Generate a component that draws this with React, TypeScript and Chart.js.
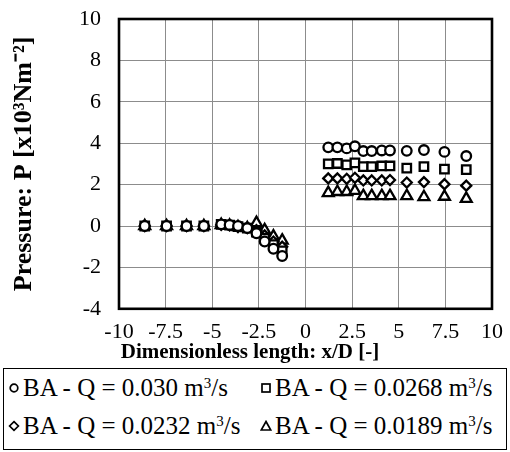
import React, { useEffect, useRef } from 'react';
import { Chart, registerables } from 'chart.js';

Chart.register(...registerables);

// ---- data ----
const xPositions = [
  -8.62, -7.45, -6.38, -5.45, -4.52, -4.07, -3.62, -3.12, -2.63, -2.19, -1.72, -1.25,
  1.22, 1.71, 2.21, 2.65, 3.1, 3.55, 4.09, 4.53, 5.43, 6.35, 7.45, 8.62,
];
const seriesNames = [
  'BA - Q = 0.030 m³/s',
  'BA - Q = 0.0268 m³/s',
  'BA - Q = 0.0232 m³/s',
  'BA - Q = 0.0189 m³/s',
];
const pressureQ030 = [
  0, 0, 0, 0, 0.08, 0.05, 0, -0.1, -0.35, -0.75, -1.1, -1.45,
  3.8, 3.8, 3.75, 3.85, 3.62, 3.62, 3.65, 3.65, 3.63, 3.67, 3.58, 3.38,
];
const pressureQ0268 = [
  0, 0, 0, 0, 0.08, 0.04, -0.03, -0.1, -0.3, -0.6, -0.9, -1.2,
  3.0, 3.02, 2.95, 3.05, 2.87, 2.87, 2.9, 2.9, 2.8, 2.87, 2.75, 2.72,
];
const pressureQ0232 = [
  0, 0, 0, 0, 0.05, 0.03, -0.05, -0.1, -0.2, -0.45, -0.75, -1.0,
  2.3, 2.3, 2.28, 2.33, 2.2, 2.2, 2.2, 2.22, 2.1, 2.12, 2.02, 1.95,
];
const pressureQ0189 = [
  0, 0, 0, 0, 0.05, 0.02, -0.05, -0.1, 0.15, -0.2, -0.5, -0.7,
  1.6, 1.65, 1.65, 1.7, 1.45, 1.45, 1.45, 1.45, 1.45, 1.4, 1.42, 1.32,
];
const xTickValues = [-10, -7.5, -5, -2.5, 0, 2.5, 5, 7.5, 10];
const yTickValues = [-4, -2, 0, 2, 4, 6, 8, 10];
const xTitle = 'Dimensionless length: x/D [-]';
const yTitle = 'Pressure: P [x10³Nm⁻²]';

const seriesValues = [pressureQ030, pressureQ0268, pressureQ0232, pressureQ0189];
const pointStyles = ['circle', 'rect', 'rectRot', 'triangle'] as const;
const pointRadii = [4.8, 6, 5, 6.3];

const FONT = '"Liberation Serif", "Times New Roman", serif';

const framePlugin = {
  id: 'frame',
  beforeDatasetsDraw(chart: any) {
    const { ctx, chartArea } = chart;
    const { left, top, right, bottom } = chartArea;
    ctx.save();
    ctx.strokeStyle = '#000';
    ctx.lineWidth = 2.6;
    ctx.strokeRect(left, top, right - left, bottom - top);
    ctx.restore();
  },
};

function LegendMarker({ kind }: { kind: number }) {
  const s = 12;
  const c = s / 2;
  const common = { fill: 'none', stroke: '#000', strokeWidth: 1.7 };
  let shape: any;
  if (kind === 0) shape = <circle cx={c} cy={c} r={3.8} {...common} />;
  else if (kind === 1) shape = <rect x={2} y={2} width={8} height={8} {...common} />;
  else if (kind === 2) shape = <polygon points={`${c},1.6 ${s - 1.6},${c} ${c},${s - 1.6} 1.6,${c}`} {...common} />;
  else shape = <polygon points={`${c},1.5 ${s - 1.2},${s - 2} 1.2,${s - 2}`} {...common} />;
  return (
    <svg width={s} height={s} style={{ display: 'block', marginRight: 3 }}>
      {shape}
    </svg>
  );
}

function LegendText({ text }: { text: string }) {
  const parts = text.split('³');
  return (
    <span>
      {parts[0]}
      {parts.length > 1 && (
        <>
          <sup style={{ fontSize: '0.6em', verticalAlign: '0.55em', lineHeight: 0 }}>3</sup>
          {parts[1]}
        </>
      )}
    </span>
  );
}

export default function App() {
  const canvasRef = useRef<HTMLCanvasElement | null>(null);

  useEffect(() => {
    if (!canvasRef.current) return;
    const datasets = seriesValues.map((vals, i) => ({
      label: seriesNames[i],
      data: xPositions.map((x, j) => ({ x, y: vals[j] })),
      showLine: false,
      pointStyle: pointStyles[i],
      pointRadius: pointRadii[i],
      pointBorderWidth: 2.3,
      pointBorderColor: '#000',
      pointBackgroundColor: '#fff',
      borderColor: '#000',
      backgroundColor: '#fff',
    }));

    const chart = new Chart(canvasRef.current, {
      type: 'scatter',
      data: { datasets },
      plugins: [framePlugin],
      options: {
        animation: false,
        responsive: false,
        maintainAspectRatio: false,
        layout: { padding: { left: 8, right: 18, top: 19, bottom: 1 } },
        plugins: {
          legend: { display: false },
          tooltip: { enabled: false },
          title: {
            display: true,
            position: 'bottom',
            text: xTitle,
            color: '#000',
            font: { family: FONT, size: 21, weight: 'bold', lineHeight: 1.2 },
            padding: { top: 0, bottom: 2 },
          },
        },
        scales: {
          x: {
            type: 'linear',
            min: -10,
            max: 10,
            afterBuildTicks: (s: any) => {
              s.ticks = xTickValues.map((v) => ({ value: v }));
            },
            afterFit: (s: any) => {
              s.height = 31;
            },
            ticks: {
              color: '#000',
              font: { family: FONT, size: 22, lineHeight: 1.2 },
              padding: 0,
              maxRotation: 0,
              autoSkip: false,
            },
            grid: {
              color: '#8c8c8c',
              lineWidth: 1,
              drawTicks: true,
              tickLength: 10,
              tickColor: 'rgba(0,0,0,0)',
            },
            border: { display: false },
          },
          y: {
            type: 'linear',
            min: -4,
            max: 10,
            afterBuildTicks: (s: any) => {
              s.ticks = yTickValues.map((v) => ({ value: v }));
            },
            afterFit: (s: any) => {
              s.width = 111;
            },
            ticks: {
              color: '#000',
              font: { family: FONT, size: 22, lineHeight: 1.2 },
              padding: 0,
              autoSkip: false,
            },
            grid: {
              color: '#8c8c8c',
              lineWidth: 1,
              drawTicks: true,
              tickLength: 18,
              tickColor: 'rgba(0,0,0,0)',
            },
            border: { display: false },
            title: {
              display: true,
              text: yTitle,
              color: '#000',
              font: { family: FONT, size: 26, weight: 'bold', lineHeight: 1.2 },
              padding: { top: 1, bottom: 0 },
            },
          },
        },
      } as any,
    });
    return () => chart.destroy();
  }, []);

  return (
    <div
      style={{
        position: 'fixed',
        left: 0,
        top: 0,
        width: 510,
        height: 452,
        background: '#fff',
        overflow: 'hidden',
      }}
    >
      <canvas ref={canvasRef} width={510} height={368} style={{ display: 'block' }} />
      <div
        style={{
          position: 'absolute',
          left: 3,
          top: 368,
          width: 504,
          height: 82,
          boxSizing: 'border-box',
          border: '1.5px solid #000',
          fontFamily: FONT,
          fontSize: 25,
          color: '#000',
        }}
      >
        {seriesNames.map((name, i) => (
          <div
            key={name}
            style={{
              position: 'absolute',
              left: i % 2 === 0 ? 4 : 256,
              top: i < 2 ? 5 : 43,
              display: 'flex',
              alignItems: 'center',
              whiteSpace: 'nowrap',
              lineHeight: '28px',
            }}
          >
            <LegendMarker kind={i} />
            <LegendText text={name} />
          </div>
        ))}
      </div>
    </div>
  );
}
